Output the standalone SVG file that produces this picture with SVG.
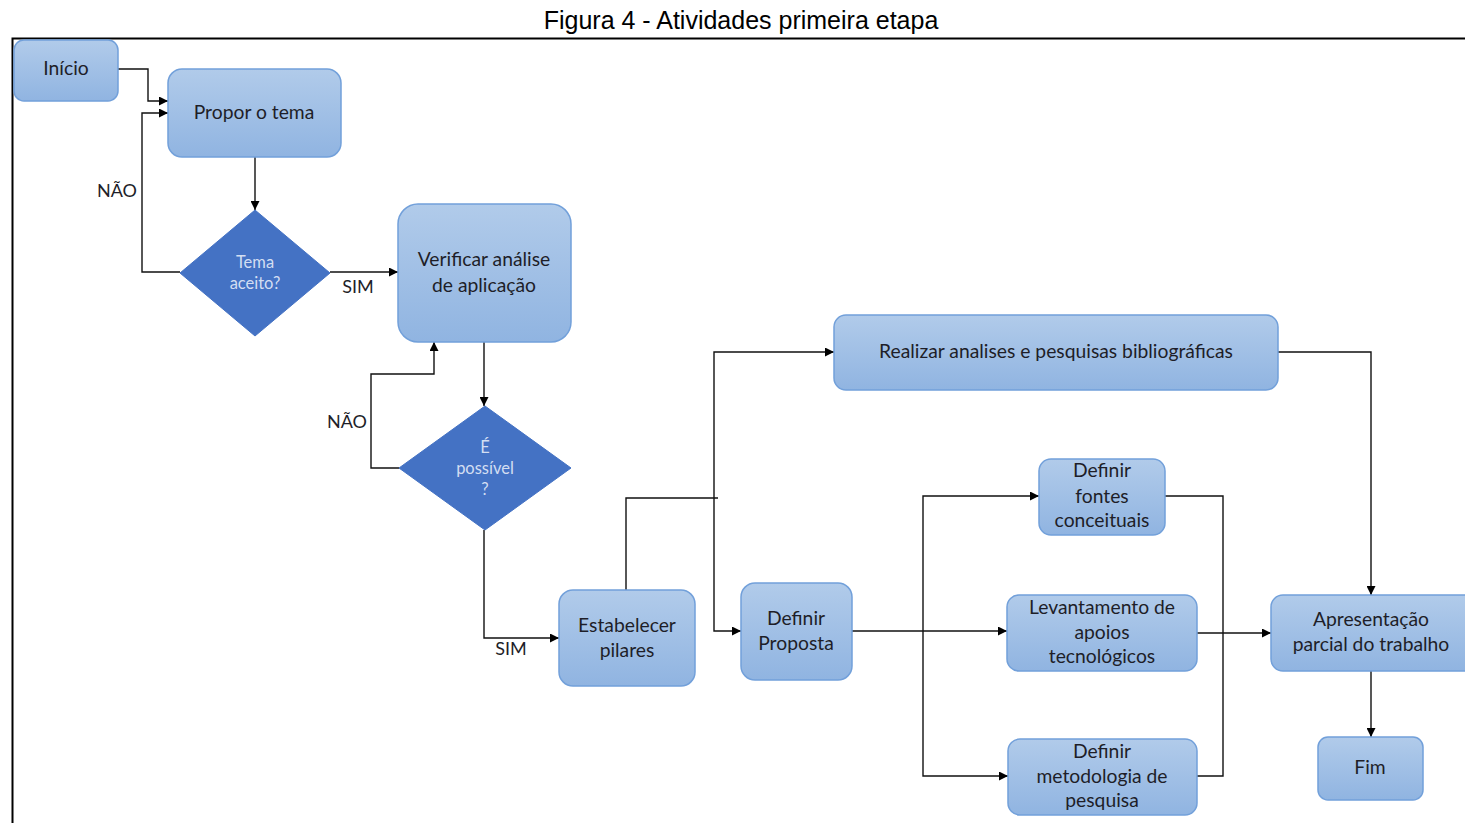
<svg xmlns="http://www.w3.org/2000/svg" width="1465" height="823" viewBox="0 0 1465 823">
  <defs>
    <linearGradient id="boxFill" x1="0" y1="0" x2="0" y2="1">
      <stop offset="0" stop-color="#b1cbea"/>
      <stop offset="1" stop-color="#90b4e1"/>
    </linearGradient>
    <marker id="arrow" viewBox="0 0 10 10" refX="10" refY="5" markerWidth="9" markerHeight="9" markerUnits="userSpaceOnUse" orient="auto">
      <path d="M0,0 L10,5 L0,10 z" fill="#000"/>
    </marker>
    <style>
      .box { fill: url(#boxFill); stroke: #72a0da; stroke-width: 1.5; }
      .dec { fill: #4472c4; stroke: #4472c4; stroke-width: 1; }
      .t { font-family: Lato, "Liberation Sans", sans-serif; font-size: 19.3px; fill: #1e1e28; text-anchor: middle; }
      .td { font-family: Lato, "Liberation Sans", sans-serif; font-size: 16.5px; fill: #d3def2; text-anchor: middle; }
      .lbl { font-family: Lato, "Liberation Sans", sans-serif; font-size: 18px; fill: #1e1e28; text-anchor: middle; }
      .c { fill: none; stroke: #111; stroke-width: 1.4; }
      .ca { fill: none; stroke: #111; stroke-width: 1.4; marker-end: url(#arrow); }
    </style>
  </defs>

  <rect width="1465" height="823" fill="#fff"/>

  <!-- caption and frame -->
  <text x="741" y="29" font-family="'Liberation Sans', Arial, sans-serif" font-size="25" fill="#000" text-anchor="middle">Figura 4 - Atividades primeira etapa</text>
  <path d="M1465,38.5 H12.5 V823" fill="none" stroke="#000" stroke-width="2"/>

  <!-- connectors -->
  <g id="connectors">
    <path class="ca" d="M118,69 H148 V101 H168"/>
    <path class="ca" d="M180,272 H142 V113 H168"/>
    <path class="ca" d="M255,157 V210"/>
    <path class="ca" d="M330,272 H398"/>
    <path class="ca" d="M484,342 V406"/>
    <path class="ca" d="M399,468 H371 V374 H434 V342"/>
    <path class="ca" d="M484,530 V638 H559"/>
    <path class="c" d="M626,590 V498 H718"/>
    <path class="ca" d="M714,498 V352 H834"/>
    <path class="ca" d="M714,498 V631 H741"/>
    <path class="ca" d="M852,631 H1007"/>
    <path class="ca" d="M923,631 V496 H1039"/>
    <path class="ca" d="M923,631 V776 H1008"/>
    <path class="c" d="M1165,496 H1223 V776 H1197"/>
    <path class="ca" d="M1197,633 H1271"/>
    <path class="ca" d="M1278,352 H1371 V595"/>
    <path class="ca" d="M1371,671 V737"/>
    <text class="lbl" x="117" y="197">NÃO</text>
    <text class="lbl" x="358" y="293">SIM</text>
    <text class="lbl" x="347" y="428">NÃO</text>
    <text class="lbl" x="511" y="655">SIM</text>
  </g>

  <g id="inicio">
    <rect class="box" x="14" y="40" width="104" height="61" rx="10"/>
    <text class="t" x="66" y="75">Início</text>
  </g>

  <g id="propor-tema">
    <rect class="box" x="168" y="69" width="173" height="88" rx="14"/>
    <text class="t" x="254" y="119">Propor o tema</text>
  </g>

  <g id="tema-aceito">
    <polygon class="dec" points="255,210 330,273 255,336 180,273"/>
    <text class="td" x="255" y="268">Tema</text>
    <text class="td" x="255" y="289">aceito?</text>
  </g>

  <g id="verificar-analise">
    <rect class="box" x="398" y="204" width="173" height="138" rx="20"/>
    <text class="t" x="484" y="266">Verificar análise</text>
    <text class="t" x="484" y="292">de aplicação</text>
  </g>

  <g id="e-possivel">
    <polygon class="dec" points="485,406 571,468 485,530 399,468"/>
    <text class="td" x="485" y="453">É</text>
    <text class="td" x="485" y="474">possível</text>
    <text class="td" x="485" y="495">?</text>
  </g>

  <g id="estabelecer-pilares">
    <rect class="box" x="559" y="590" width="136" height="96" rx="14"/>
    <text class="t" x="627" y="632">Estabelecer</text>
    <text class="t" x="627" y="657">pilares</text>
  </g>

  <g id="definir-proposta">
    <rect class="box" x="741" y="583" width="111" height="97" rx="14"/>
    <text class="t" x="796" y="625">Definir</text>
    <text class="t" x="796" y="650">Proposta</text>
  </g>

  <g id="realizar-analises">
    <rect class="box" x="834" y="315" width="444" height="75" rx="12"/>
    <text class="t" x="1056" y="358">Realizar analises e pesquisas bibliográficas</text>
  </g>

  <g id="definir-fontes">
    <rect class="box" x="1039" y="459" width="126" height="76" rx="12"/>
    <text class="t" x="1102" y="477">Definir</text>
    <text class="t" x="1102" y="503">fontes</text>
    <text class="t" x="1102" y="527">conceituais</text>
  </g>

  <g id="levantamento-apoios">
    <rect class="box" x="1007" y="595" width="190" height="76" rx="12"/>
    <text class="t" x="1102" y="614">Levantamento de</text>
    <text class="t" x="1102" y="639">apoios</text>
    <text class="t" x="1102" y="663">tecnológicos</text>
  </g>

  <g id="definir-metodologia">
    <rect class="box" x="1008" y="739" width="189" height="76" rx="12"/>
    <text class="t" x="1102" y="758">Definir</text>
    <text class="t" x="1102" y="783">metodologia de</text>
    <text class="t" x="1102" y="807">pesquisa</text>
  </g>

  <g id="apresentacao-parcial">
    <rect class="box" x="1271" y="595" width="205" height="76" rx="12"/>
    <text class="t" x="1371" y="626">Apresentação</text>
    <text class="t" x="1371" y="651">parcial do trabalho</text>
  </g>

  <g id="fim">
    <rect class="box" x="1318" y="737" width="105" height="63" rx="10"/>
    <text class="t" x="1370" y="774">Fim</text>
  </g>
</svg>
